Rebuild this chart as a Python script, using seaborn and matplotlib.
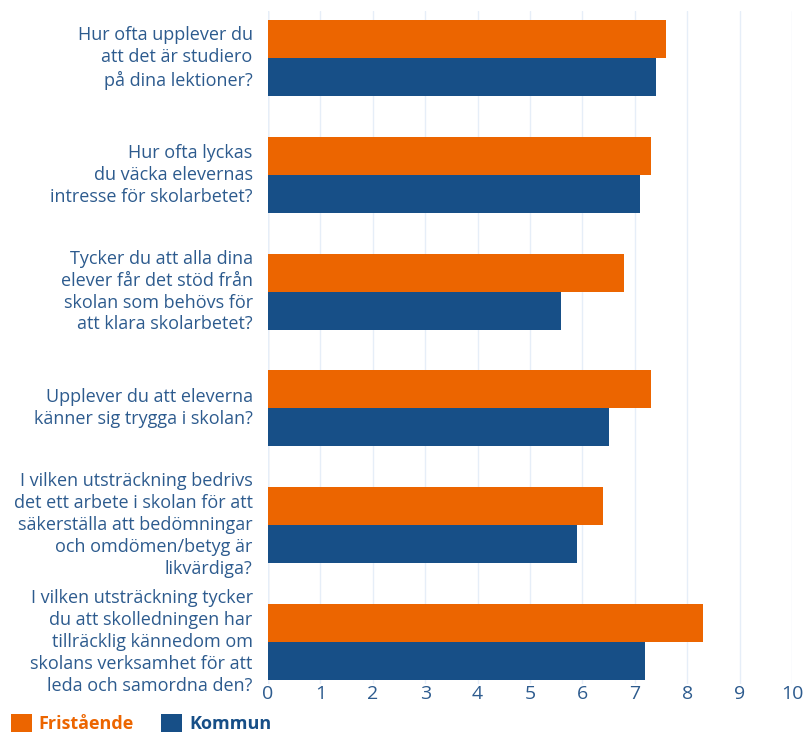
import matplotlib
matplotlib.use("Agg")
import matplotlib.pyplot as plt
import seaborn as sns
import pandas as pd

categories = [
    "Hur ofta upplever du\natt det är studiero\npå dina lektioner?",
    "Hur ofta lyckas\ndu väcka elevernas\nintresse för skolarbetet?",
    "Tycker du att alla dina\nelever får det stöd från\nskolan som behövs för\natt klara skolarbetet?",
    "Upplever du att eleverna\nkänner sig trygga i skolan?",
    "I vilken utsträckning bedrivs\ndet ett arbete i skolan för att\nsäkerställa att bedömningar\noch omdömen/betyg är\nlikvärdiga?",
    "I vilken utsträckning tycker\ndu att skolledningen har\ntillräcklig kännedom om\nskolans verksamhet för att\nleda och samordna den?",
]
series_names = ["Fristående", "Kommun"]
fristaende = [7.6, 7.3, 6.8, 7.3, 6.4, 8.3]
kommun = [7.4, 7.1, 5.6, 6.5, 5.9, 7.2]
x_ticks = [0, 1, 2, 3, 4, 5, 6, 7, 8, 9, 10]

colors = {"Fristående": "#ec6500", "Kommun": "#174f87"}
text_color = "#2d5b8e"

df = pd.DataFrame({
    "question": categories * 2,
    "group": [series_names[0]] * len(categories) + [series_names[1]] * len(categories),
    "value": fristaende + kommun,
})

sns.set_theme(style="white")
plt.rcParams["font.family"] = ["Open Sans", "DejaVu Sans"]

fig = plt.figure(figsize=(8.04, 7.35), dpi=100)
ax = fig.add_axes([268 / 804, 1 - 684 / 735, (792 - 268) / 804, (684 - 11) / 735])

sns.barplot(data=df, y="question", x="value", hue="group", order=categories,
            hue_order=series_names, palette=colors, width=0.65, gap=0,
            orient="h", ax=ax, saturation=1, linewidth=0)

ax.set_xlim(0, 10)
ax.set_ylim(5.36, -0.402)
ax.set_xticks(x_ticks)
ax.set_xticklabels([str(t) for t in x_ticks])
ax.set_xlabel("")
ax.set_ylabel("")
for s in ax.spines.values():
    s.set_visible(False)
ax.grid(axis="x", color="#e6eef8", linewidth=1)
ax.set_axisbelow(True)
ax.axvline(0, color="#ccd6e0", linewidth=1, zorder=0)
ax.tick_params(axis="both", length=0, colors=text_color)
ax.tick_params(axis="y", pad=11, labelsize=13)
ax.tick_params(axis="x", pad=1, labelsize=14)
for lbl in ax.get_yticklabels():
    lbl.set_horizontalalignment("right")
    lbl.set_linespacing(1.28)
    lbl.set_verticalalignment("center")

sns.move_legend(ax, loc="lower left", bbox_to_anchor=(0.0, -0.012),
                bbox_transform=fig.transFigure, ncol=2, frameon=False, title=None,
                handlelength=1.15, handleheight=1.15, handletextpad=0.4,
                columnspacing=1.5, borderaxespad=0.3, borderpad=0.3, fontsize=13)
leg = ax.get_legend()
for txt, name in zip(leg.get_texts(), series_names):
    txt.set_color(colors[name])
    txt.set_fontweight("bold")

fig.savefig("out.png", dpi=100)
